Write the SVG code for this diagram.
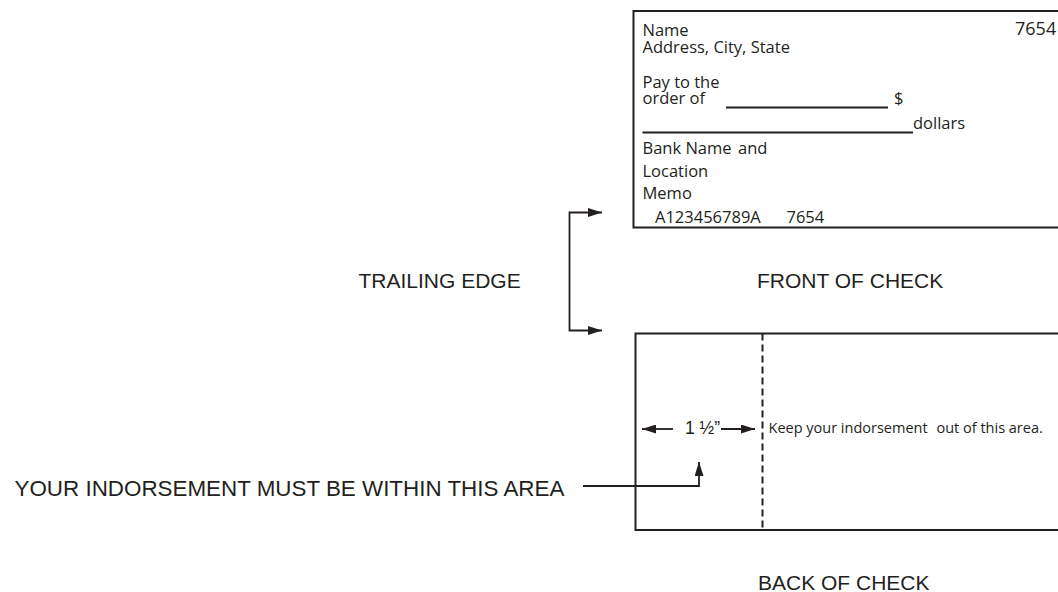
<svg xmlns="http://www.w3.org/2000/svg" width="1058" height="592" viewBox="0 0 1058 592">
<style>
.chk{font-family:"Open Sans","Noto Sans",sans-serif;font-size:16.5px;fill:#231f20}
.sm{font-family:"Open Sans","Noto Sans",sans-serif;font-size:14.5px;fill:#231f20}
.lbl{font-family:"Liberation Sans",Arial,sans-serif;font-size:21px;fill:#231f20}
.ln{stroke:#231f20;stroke-width:1.8;fill:none}
.box{stroke:#231f20;stroke-width:2;fill:#fff}
</style>
<defs>
<marker id="ah" viewBox="0 0 14 9" refX="14" refY="4.5" markerWidth="14" markerHeight="9" markerUnits="userSpaceOnUse" orient="auto-start-reverse">
<path d="M0,0 L14,4.5 L0,9 Z" fill="#231f20"/>
</marker>
</defs>
<rect width="1058" height="592" fill="#fff"/>

<g id="front-check">
<path class="box" d="M1060,11 H633.5 V227.5 H1060"/>
<text class="chk" x="642.5" y="36">Name</text>
<text class="chk" x="642.5" y="53">Address, City, State</text>
<text class="chk" x="1015" y="35" style="font-size:18px">7654</text>
<text class="chk" x="642.5" y="88">Pay to the</text>
<text class="chk" x="642.5" y="104">order of</text>
<line class="ln" x1="726" y1="107.5" x2="888" y2="107.5"/>
<text class="chk" x="894" y="104">$</text>
<line class="ln" x1="642.5" y1="132.5" x2="913" y2="132.5"/>
<text class="chk" x="913" y="129">dollars</text>
<text class="chk" x="642.5" y="154">Bank Name</text>
<text class="chk" x="738" y="154">and</text>
<text class="chk" x="642.5" y="176.5">Location</text>
<text class="chk" x="642.5" y="199">Memo</text>
<text class="chk" x="655" y="222.5">A123456789A</text>
<text class="chk" x="786.5" y="222.5">7654</text>
</g>

<g id="front-label">
<text class="lbl" x="757" y="288">FRONT OF CHECK</text>
</g>

<g id="trailing-edge-label">
<text class="lbl" x="358.5" y="288">TRAILING EDGE</text>
</g>

<g id="back-check">
<path class="box" d="M1060,333.5 H635.5 V530 H1060"/>
<line x1="762.5" y1="333.5" x2="762.5" y2="530" stroke="#231f20" stroke-width="2" stroke-dasharray="7,4"/>
<text x="685" y="434" style="font-family:'Liberation Sans',Arial,sans-serif;font-size:17.5px;fill:#231f20">1 ½”</text>
<text class="sm" x="768.5" y="433">Keep your indorsement</text>
<text class="sm" x="936.5" y="433">out of this area.</text>
</g>

<g id="back-label">
<text class="lbl" x="758" y="590">BACK OF CHECK</text>
</g>

<g id="indorsement-label">
<text class="lbl" x="14.5" y="496" style="font-size:22.4px">YOUR INDORSEMENT MUST BE WITHIN THIS AREA</text>
</g>

<g id="connectors">
<path class="ln" d="M602,212.5 H569.5 V330.5 H602" marker-start="url(#ah)" marker-end="url(#ah)"/>
<line class="ln" x1="673" y1="429" x2="642" y2="429" marker-end="url(#ah)"/>
<line class="ln" x1="721" y1="429" x2="755" y2="429" marker-end="url(#ah)"/>
<path class="ln" d="M583,486 H699 V462" marker-end="url(#ah)"/>
</g>
</svg>
